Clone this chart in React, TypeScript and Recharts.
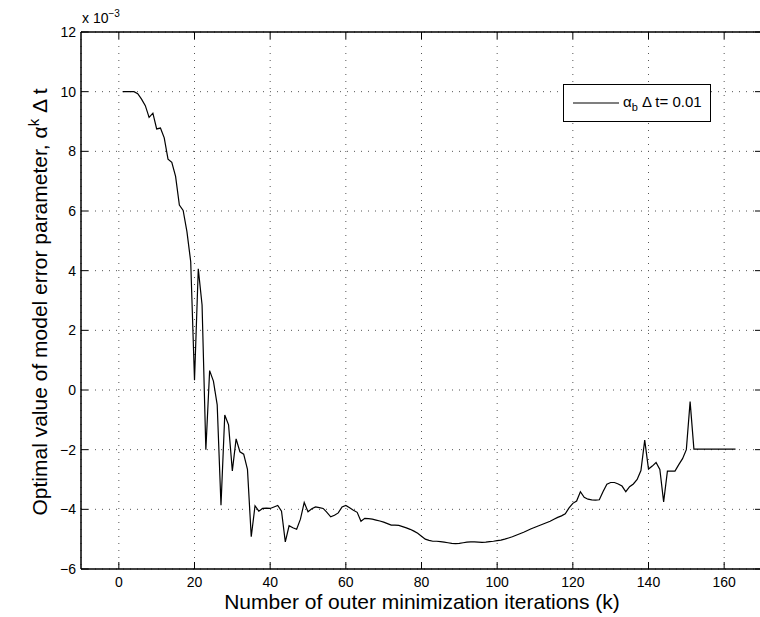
import { LineChart, Line, XAxis, YAxis, CartesianGrid, ReferenceLine } from "recharts";

// alpha^k * dt per outer iteration, in units of 1e-3 (axis carries "x 10^-3")
const alphaValues = [
  10, 10, 10, 10, 9.93, 9.75, 9.53, 9.14, 9.28, 8.75,
  8.78, 8.45, 7.74, 7.63, 7.16, 6.2, 6.02, 5.31, 4.3, 0.33,
  4.06, 2.85, -2.0, 0.65, 0.3, -0.5, -3.86, -0.84, -1.17, -2.71,
  -1.64, -2.07, -2.15, -2.66, -4.92, -3.88, -4.06, -3.97, -3.96, -3.97,
  -3.92, -3.87, -4.06, -5.09, -4.55, -4.62, -4.67, -4.33, -3.77, -4.08,
  -3.98, -3.92, -3.94, -3.97, -4.1, -4.25, -4.2, -4.12, -3.92, -3.87,
  -3.95, -4.03, -4.1, -4.4, -4.3, -4.31, -4.33, -4.36, -4.39, -4.43,
  -4.48, -4.53, -4.53, -4.54, -4.58, -4.62, -4.67, -4.73, -4.8, -4.9,
  -5.0, -5.04, -5.07, -5.07, -5.08, -5.1, -5.12, -5.14, -5.15, -5.14,
  -5.12, -5.1, -5.09, -5.09, -5.1, -5.11, -5.1, -5.08, -5.07, -5.05,
  -5.03, -5.0, -4.96, -4.92, -4.87, -4.82, -4.77, -4.71, -4.65, -4.6,
  -4.55, -4.5, -4.45, -4.4, -4.33, -4.27, -4.22, -4.15, -3.95, -3.8,
  -3.72, -3.41, -3.6, -3.66, -3.68, -3.69, -3.68, -3.4, -3.16, -3.1,
  -3.1, -3.15, -3.22, -3.41, -3.24, -3.15, -3.0, -2.7, -1.68, -2.65,
  -2.55, -2.43, -2.66, -3.75, -2.72, -2.72, -2.72, -2.5, -2.3, -2.0,
  -0.39, -1.98, -1.98, -1.98, -1.98, -1.98, -1.98, -1.98, -1.98, -1.98,
  -1.98, -1.98, -1.98,
];
const iterations = alphaValues.map((_, i) => i + 1);

const xTicks = [0, 20, 40, 60, 80, 100, 120, 140, 160];
const yTicks = [-6, -4, -2, 0, 2, 4, 6, 8, 10, 12];
const xDomain = [-10, 170];
const yDomain = [-6, 12];

const data = iterations.map((k, i) => ({ k, alpha: alphaValues[i] }));

const FONT = "'Liberation Sans', Arial, Helvetica, sans-serif";
const W = 780;
const H = 617;
const X_AXIS_H = 48;
const Y_AXIS_W = 81;
const M = { top: 32, right: 18, bottom: 0, left: 0 };
const PLOT_TOP = M.top;
const PLOT_RIGHT = W - M.right;
const TICK = 7;

const fmt = (v: number) => (v < 0 ? "\u2212" + Math.abs(v) : String(v));

function XTick({ x, y, payload }: any) {
  return (
    <g>
      <line x1={x} x2={x} y1={y} y2={y - TICK} stroke="#000" />
      <line x1={x} x2={x} y1={PLOT_TOP} y2={PLOT_TOP + TICK} stroke="#000" />
      <text x={x} y={y + 18} textAnchor="middle" fontSize={14} fontFamily={FONT} fill="#000">
        {fmt(payload.value)}
      </text>
    </g>
  );
}

function YTick({ x, y, payload }: any) {
  return (
    <g>
      <line x1={x} x2={x + TICK} y1={y} y2={y} stroke="#000" />
      <line x1={PLOT_RIGHT - TICK} x2={PLOT_RIGHT} y1={y} y2={y} stroke="#000" />
      <text x={x - 5} y={y + 5} textAnchor="end" fontSize={14} fontFamily={FONT} fill="#000">
        {fmt(payload.value)}
      </text>
    </g>
  );
}

export default function App() {
  return (
    <div
      style={{
        position: "absolute",
        left: 0,
        top: 0,
        width: 760,
        height: 617,
        overflow: "hidden",
        background: "#fff",
        fontFamily: FONT,
        color: "#000",
      }}
    >
      <LineChart width={W} height={H} data={data} margin={M}>
        <CartesianGrid stroke="#555" strokeDasharray="1 6" />
        <XAxis
          dataKey="k"
          type="number"
          domain={xDomain}
          ticks={xTicks}
          allowDataOverflow
          height={X_AXIS_H}
          tickSize={0}
          tickMargin={0}
          tickLine={false}
          axisLine={{ stroke: "#000", strokeWidth: 1.5 }}
          tick={XTick}
          interval={0}
        />
        <YAxis
          type="number"
          domain={yDomain}
          ticks={yTicks}
          allowDataOverflow
          width={Y_AXIS_W}
          tickSize={0}
          tickMargin={0}
          tickLine={false}
          axisLine={{ stroke: "#000", strokeWidth: 1.5 }}
          tick={YTick}
          interval={0}
        />
        <ReferenceLine y={12} stroke="#000" strokeWidth={1.5} />
        <ReferenceLine x={170} stroke="#000" strokeWidth={1.5} />
        <Line
          dataKey="alpha"
          stroke="#000"
          strokeWidth={1.2}
          dot={false}
          isAnimationActive={false}
        />
      </LineChart>

      {/* exponent note above the y axis */}
      <div style={{ position: "absolute", left: 82, top: 9, fontSize: 14, lineHeight: "18px", whiteSpace: "nowrap" }}>
        x 10<span style={{ position: "relative", top: -6, fontSize: 10 }}>{"\u22123"}</span>
      </div>

      {/* legend */}
      <div
        style={{
          position: "absolute",
          left: 563,
          top: 84,
          width: 148,
          height: 38,
          boxSizing: "border-box",
          border: "1px solid #000",
          background: "#fff",
          display: "flex",
          alignItems: "center",
        }}
      >
        <svg width={56} height={20} style={{ marginLeft: 9 }}>
          <line x1={0} x2={46} y1={10} y2={10} stroke="#000" strokeWidth={1.2} />
        </svg>
        <span style={{ fontSize: 15, whiteSpace: "nowrap", marginLeft: -6 }}>
          α<sub style={{ fontSize: 11 }}>b</sub> Δ t= 0.01
        </span>
      </div>

      <div
        style={{
          position: "absolute",
          left: 422,
          top: 602,
          transform: "translate(-50%, -50%)",
          fontSize: 21,
          whiteSpace: "nowrap",
        }}
      >
        Number of outer minimization iterations (k)
      </div>

      <div
        style={{
          position: "absolute",
          left: 38,
          top: 302,
          transform: "translate(-50%, -50%) rotate(-90deg)",
          fontSize: 21,
          whiteSpace: "nowrap",
        }}
      >
        Optimal value of model error parameter, α<sup style={{ fontSize: 15 }}>k</sup> Δ t
      </div>
    </div>
  );
}
